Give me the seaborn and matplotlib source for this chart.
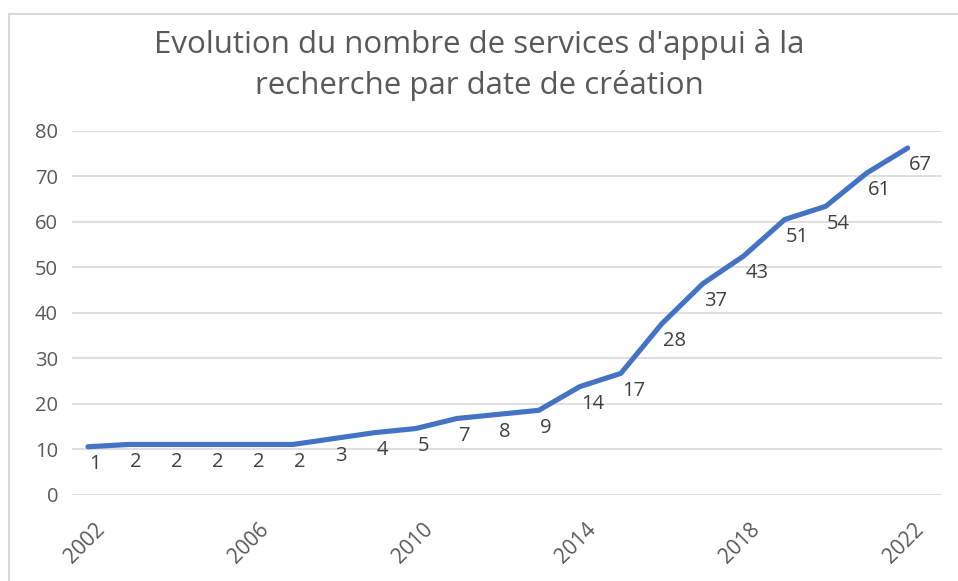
import matplotlib
matplotlib.use("Agg")
import matplotlib.pyplot as plt
import matplotlib.transforms as mtransforms
import seaborn as sns
import pandas as pd
from matplotlib.lines import Line2D

years = [2002, 2003, 2004, 2005, 2006, 2007, 2008, 2009, 2010, 2011, 2012,
         2013, 2014, 2015, 2016, 2017, 2018, 2019, 2020, 2021, 2022]
plot_values = [10.6, 11.1, 11.1, 11.1, 11.1, 11.1, 12.4, 13.7, 14.6, 16.8, 17.7,
               18.6, 23.8, 26.7, 37.6, 46.4, 52.5, 60.5, 63.4, 70.7, 76.2]
label_values = [1, 2, 2, 2, 2, 2, 3, 4, 5, 7, 8, 9, 14, 17, 28, 37, 43, 51, 54, 61, 67]
x_ticks = [2002, 2006, 2010, 2014, 2018, 2022]
y_ticks = [0, 10, 20, 30, 40, 50, 60, 70, 80]
title = "Evolution du nombre de services d'appui à la\nrecherche par date de création"

sns.set_style("white")
plt.rcParams['font.family'] = ['Open Sans', 'DejaVu Sans']

W, H = 958, 581
fig = plt.figure(figsize=(W / 100, H / 100), dpi=100)
ax = fig.add_axes([72 / W, 1 - 495 / H, (942 - 72) / W, (495 - 130.7) / H])

df = pd.DataFrame({"year": years, "value": plot_values})
sns.lineplot(data=df, x="year", y="value", ax=ax, color="#4472C4", linewidth=3.7)

text_color = "#595959"
for x, y, lab in zip(years, plot_values, label_values):
    ax.annotate(str(lab), xy=(x, y), xytext=(1, -12.5), textcoords="offset points",
                ha="left", va="center", fontsize=14.5, color="#404040")

ax.set_xlim(2002 - 16 / 40.985, 2022 + 34.3 / 40.985)
ax.set_ylim(0, 80)
ax.set_yticks(y_ticks)
ax.set_yticklabels([str(v) for v in y_ticks], fontsize=14.5, color=text_color)
ax.set_xticks(x_ticks)
ax.set_xticklabels([str(v) for v in x_ticks], fontsize=15, color=text_color,
                   rotation=45, ha="right", rotation_mode="anchor")
ax.tick_params(axis="y", length=0, pad=10)
ax.tick_params(axis="x", length=0, pad=17)
shift = mtransforms.ScaledTranslation(6 / 100, 0, fig.dpi_scale_trans)
for lbl in ax.get_xticklabels():
    lbl.set_transform(lbl.get_transform() + shift)
ax.grid(axis="y", color="#D9D9D9", linewidth=1.2)
ax.set_axisbelow(True)
for s in ax.spines.values():
    s.set_visible(False)
ax.set_xlabel("")
ax.set_ylabel("")

fig.text(0.5, 1 - 65 / H, title, ha="center", va="center", fontsize=22.5,
         color=text_color, linespacing=1.38)

# outer chart frame
fig.add_artist(Line2D([8.5 / W, 1], [1 - 14 / H, 1 - 14 / H], color="#D9D9D9", linewidth=1.5,
                      transform=fig.transFigure))
fig.add_artist(Line2D([8.5 / W, 8.5 / W], [0, 1 - 14 / H], color="#D9D9D9", linewidth=1.5,
                      transform=fig.transFigure))

fig.savefig("out.png", dpi=100)
